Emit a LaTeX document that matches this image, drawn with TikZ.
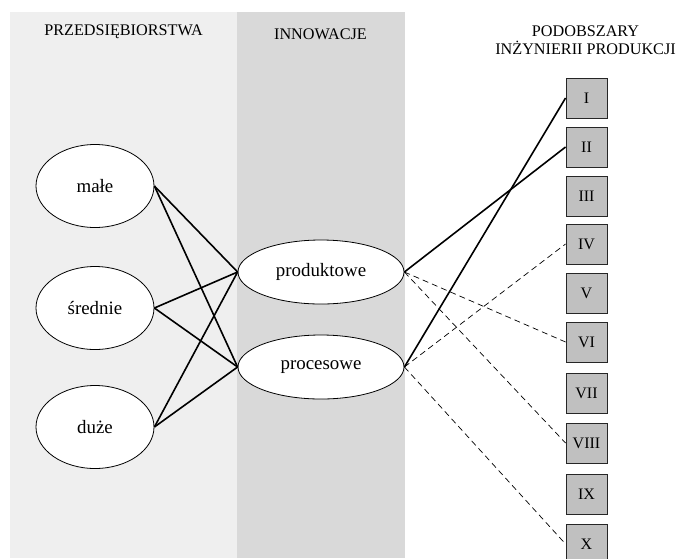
\documentclass[tikz,border=0pt]{standalone}
\usepackage{fontspec}
\setmainfont{Liberation Serif}
\usetikzlibrary{shapes.geometric}
\definecolor{leftgray}{RGB}{239,239,239}
\definecolor{midgray}{RGB}{217,217,217}
\definecolor{boxgray}{RGB}{192,192,192}

\begin{document}
\begin{tikzpicture}[x=1pt,y=-1pt]
  \tikzstyle{head}  = [inner sep=0pt,font=\fontsize{16.2}{18.3}\selectfont]
  \tikzstyle{firmV} = [ellipse,draw=black,line width=0.8pt,fill=white,minimum width=118pt,minimum height=83pt,inner sep=0pt,font=\fontsize{18.9}{22}\selectfont]
  \tikzstyle{innoV} = [firmV,minimum width=166pt,minimum height=64pt]
  \tikzstyle{areaV} = [rectangle,draw=black!85,line width=0.9pt,fill=boxgray,minimum width=41pt,minimum height=40pt,inner sep=0pt,font=\fontsize{16}{18}\selectfont]
  \tikzstyle{tie}   = [line width=1.6pt]
  \tikzstyle{tieD}  = [line width=0.7pt,dash pattern=on 6pt off 4pt]
  \useasboundingbox (0,0) rectangle (680,558);
  % columns in the background
  \fill[leftgray] (10,12) rectangle (237,558);
  \fill[midgray] (237,12) rectangle (405,558);
  \path (123.5,35.3) node[head,anchor=base](tfirm) {PRZEDSIĘBIORSTWA};
  \path (320.5,39.3) node[head,anchor=base](tinno) {INNOWACJE};
  \path (585.5,54.3) node[head,anchor=base,align=center](tarea) {PODOBSZARY\\INŻYNIERII PRODUKCJI};
  % firms and innovations
  \path (95,186) node[firmV](male) {małe};
  \path (95,308) node[firmV](srednie) {średnie};
  \path (95,427) node[firmV](duze) {duże};
  \path (321,272) node[innoV](prod) {produktowe};
  \path (321,367) node[innoV](proc) {procesowe};
  % subareas I..X
  \foreach \n/\yy in {I/98,II/147,III/196,IV/244,V/293,VI/342,VII/393,VIII/443,IX/494,X/544}
    \path (586.5,\yy) node[areaV](a\n) {\n};
  \draw[tie] (male.east) -- (prod.west);
  \draw[tie] (male.east) -- (proc.west);
  \draw[tie] (srednie.east) -- (prod.west);
  \draw[tie] (srednie.east) -- (proc.west);
  \draw[tie] (duze.east) -- (prod.west);
  \draw[tie] (duze.east) -- (proc.west);
  \draw[tie] (prod.east) -- (aII.west);
  \draw[tieD] (prod.east) -- (aVI.west);
  \draw[tieD] (prod.east) -- (aVIII.west);
  \draw[tie] (proc.east) -- (aI.west);
  \draw[tieD] (proc.east) -- (aIV.west);
  \draw[tieD] (proc.east) -- (aX.west);
\end{tikzpicture}
\end{document}
